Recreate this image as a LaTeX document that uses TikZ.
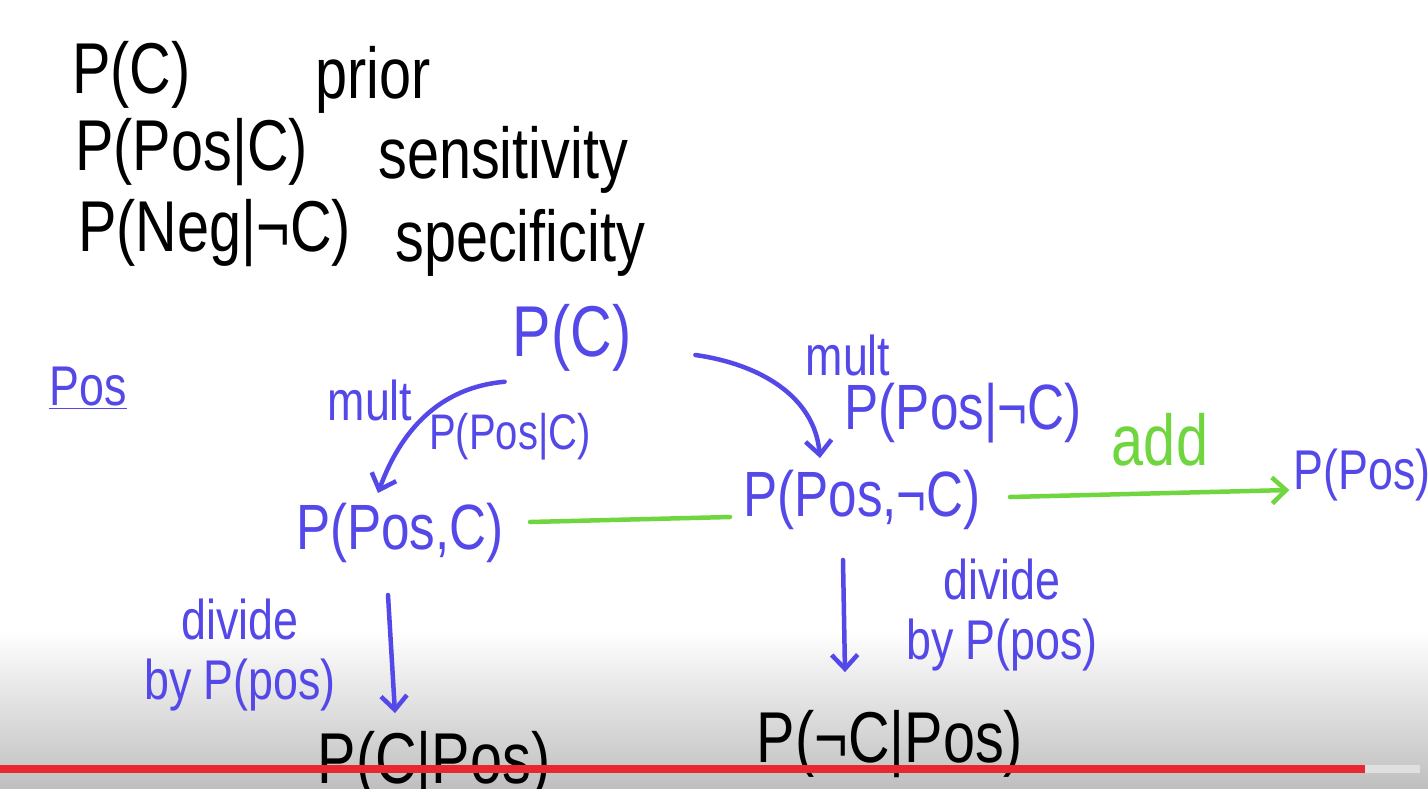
\documentclass[tikz,border=0pt]{standalone}
\usepackage{fontspec}
\setmainfont[FakeStretch=0.8]{Liberation Sans}
\usetikzlibrary{arrows.meta, positioning}
\definecolor{inkblue}{RGB}{84,72,232}
\definecolor{inkgreen}{RGB}{112,214,64}
\definecolor{barred}{RGB}{232,40,44}

\begin{document}
\begin{tikzpicture}[
    x=1pt, y=1pt,
    note/.style={text=#1, inner sep=0pt},
    huge/.style={font=\fontsize{72}{76}\selectfont},
    big/.style={font=\fontsize{64}{68}\selectfont},
    mid/.style={font=\fontsize{56}{60}\selectfont},
    small/.style={font=\fontsize{50}{54}\selectfont},
    flow/.style={draw=inkblue, line width=4.5pt, line cap=round,
        -{Straight Barb[length=14pt,width=26pt]}},
    sum/.style={draw=inkgreen, line width=4.5pt, line cap=round}
]
    % screen background
    \fill[white] (0,0) rectangle (1428,-788);
    \shade[top color=white, bottom color=black!25] (0,-630) rectangle (1428,-788);
    \useasboundingbox (0,0) rectangle (1428,-788);

    % definitions
    \node[note=black, huge, anchor=west] (pc0)   at (72,-75)   {P(C)};
    \node[note=black, huge, anchor=west] (prior) at (315,-80)  {prior};
    \node[note=black, huge, anchor=west] (pposc) at (75,-152)  {P(Pos|C)};
    \node[note=black, huge, anchor=west] (sens)  at (378,-160) {sensitivity};
    \node[note=black, huge, anchor=west] (pneg)  at (78,-233)  {P(Neg|¬C)};
    \node[note=black, huge, anchor=west] (spec)  at (395,-243) {specificity};

    % tree for Pos
    \node[note=inkblue, mid]  (postitle) at (88,-388) {\underline{Pos}};
    \node[note=inkblue, huge] (pc)    at (572,-338)  {P(C)};
    \node[note=inkblue, mid]  (multl) at (370,-400)  {mult};
    \node[note=inkblue, small](lkc)   at (510,-437)  {P(Pos|C)};
    \node[note=inkblue, mid]  (multr) at (848,-355)  {mult};
    \node[note=inkblue, big]  (lkn)   at (963,-413)  {P(Pos|¬C)};
    \node[note=inkblue, big]  (jc)    at (400,-533)  {P(Pos,C)};
    \node[note=inkblue, big]  (jn)    at (862,-500)  {P(Pos,¬C)};
    \node[note=inkgreen, huge](add)   at (1160,-440) {add};
    \node[note=inkblue, font=\fontsize{56}{60}\selectfont] (ppos) at (1362,-475) {P(Pos)};
    \node[note=inkblue, mid, align=center] (divl) at (240,-655) {divide\\by P(pos)};
    \node[note=inkblue, mid, align=center] (divr) at (1002,-615) {divide\\by P(pos)};
    \node[note=black, huge] (postc) at (434,-765) {P(C|Pos)};
    \node[note=black, huge] (postn) at (890,-744) {P(¬C|Pos)};

    \draw[flow] ([shift={(-8,-10)}]pc.south west) to[out=185, in=70]
        ([shift={(-22,10)}]jc.north);
    \draw[flow] ([shift={(64,-17)}]pc.east) to[out=-8, in=95]
        ([shift={(-42,12)}]jn.north);
    \draw[sum] ([shift={(26,11)}]jc.east) -- ([shift={(-13,-17)}]jn.west);
    \draw[sum, -{Straight Barb[length=14pt,width=26pt]}]
        ([shift={(29,3)}]jn.east) -- ([shift={(-4,-15)}]ppos.west);
    \draw[flow] ([shift={(-12,-32)}]jc.south) -- ([shift={(-39,18)}]postc.north);
    \draw[flow] ([shift={(-19,-30)}]jn.south) -- ([shift={(-45,38)}]postn.north);

    % progress bar
    \fill[barred] (0,-765) rectangle (1365,-773);
    \fill[black!12] (1365,-765) rectangle (1420,-773);
\end{tikzpicture}
\end{document}
